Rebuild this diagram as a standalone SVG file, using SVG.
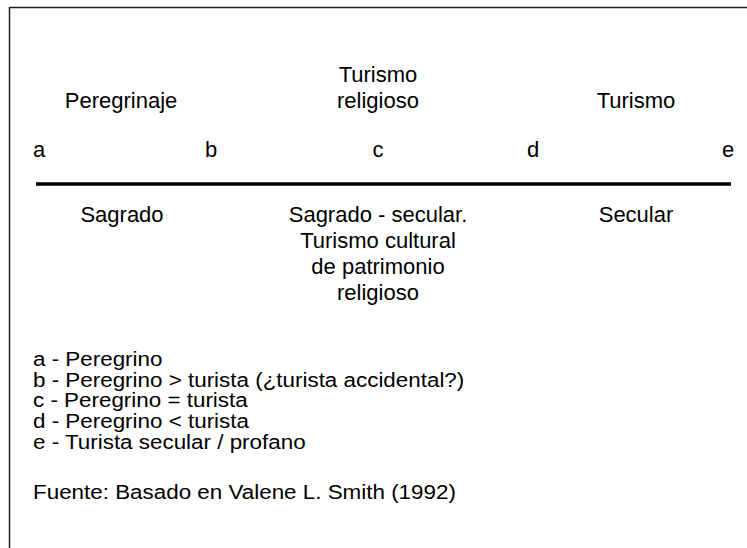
<svg xmlns="http://www.w3.org/2000/svg" width="747" height="548" viewBox="0 0 747 548">
<style>
text{font-family:"Liberation Sans",Arial,sans-serif;font-size:22px;fill:#000}
.m{text-anchor:middle}
.l{font-size:21px}
</style>
<rect width="747" height="548" fill="#fff"/>
<g id="frame"><path d="M9.5 548V7.5H747" fill="none" stroke="#222" stroke-width="1.5"/></g>
<g id="axis"><line x1="36" y1="184" x2="731" y2="184" stroke="#000" stroke-width="3.5"/></g>
<g id="top-labels">
<text class="m" x="121" y="108">Peregrinaje</text>
<text class="m" x="378" y="82">Turismo</text>
<text class="m" x="378" y="108">religioso</text>
<text class="m" x="636" y="108">Turismo</text>
</g>
<g id="points">
<text class="m" x="39" y="157">a</text>
<text class="m" x="211" y="157">b</text>
<text class="m" x="378" y="157">c</text>
<text class="m" x="533" y="157">d</text>
<text class="m" x="728" y="157">e</text>
</g>
<g id="bottom-labels">
<text class="m" x="122" y="222">Sagrado</text>
<text class="m" x="378" y="222">Sagrado - secular.</text>
<text class="m" x="378" y="248">Turismo cultural</text>
<text class="m" x="378" y="274">de patrimonio</text>
<text class="m" x="378" y="300">religioso</text>
<text class="m" x="636" y="222">Secular</text>
</g>
<g id="legend" transform="translate(33 0) scale(1.067 1)">
<text class="l"><tspan x="0" y="366.5">a - Peregrino</tspan><tspan x="0" y="387">b - Peregrino &gt; turista (¿turista accidental?)</tspan><tspan x="0" y="407.5">c - Peregrino = turista</tspan><tspan x="0" y="428">d - Peregrino &lt; turista</tspan><tspan x="0" y="449">e - Turista secular / profano</tspan></text>
<text class="l" x="0" y="499">Fuente: Basado en Valene L. Smith (1992)</text>
</g>
</svg>
